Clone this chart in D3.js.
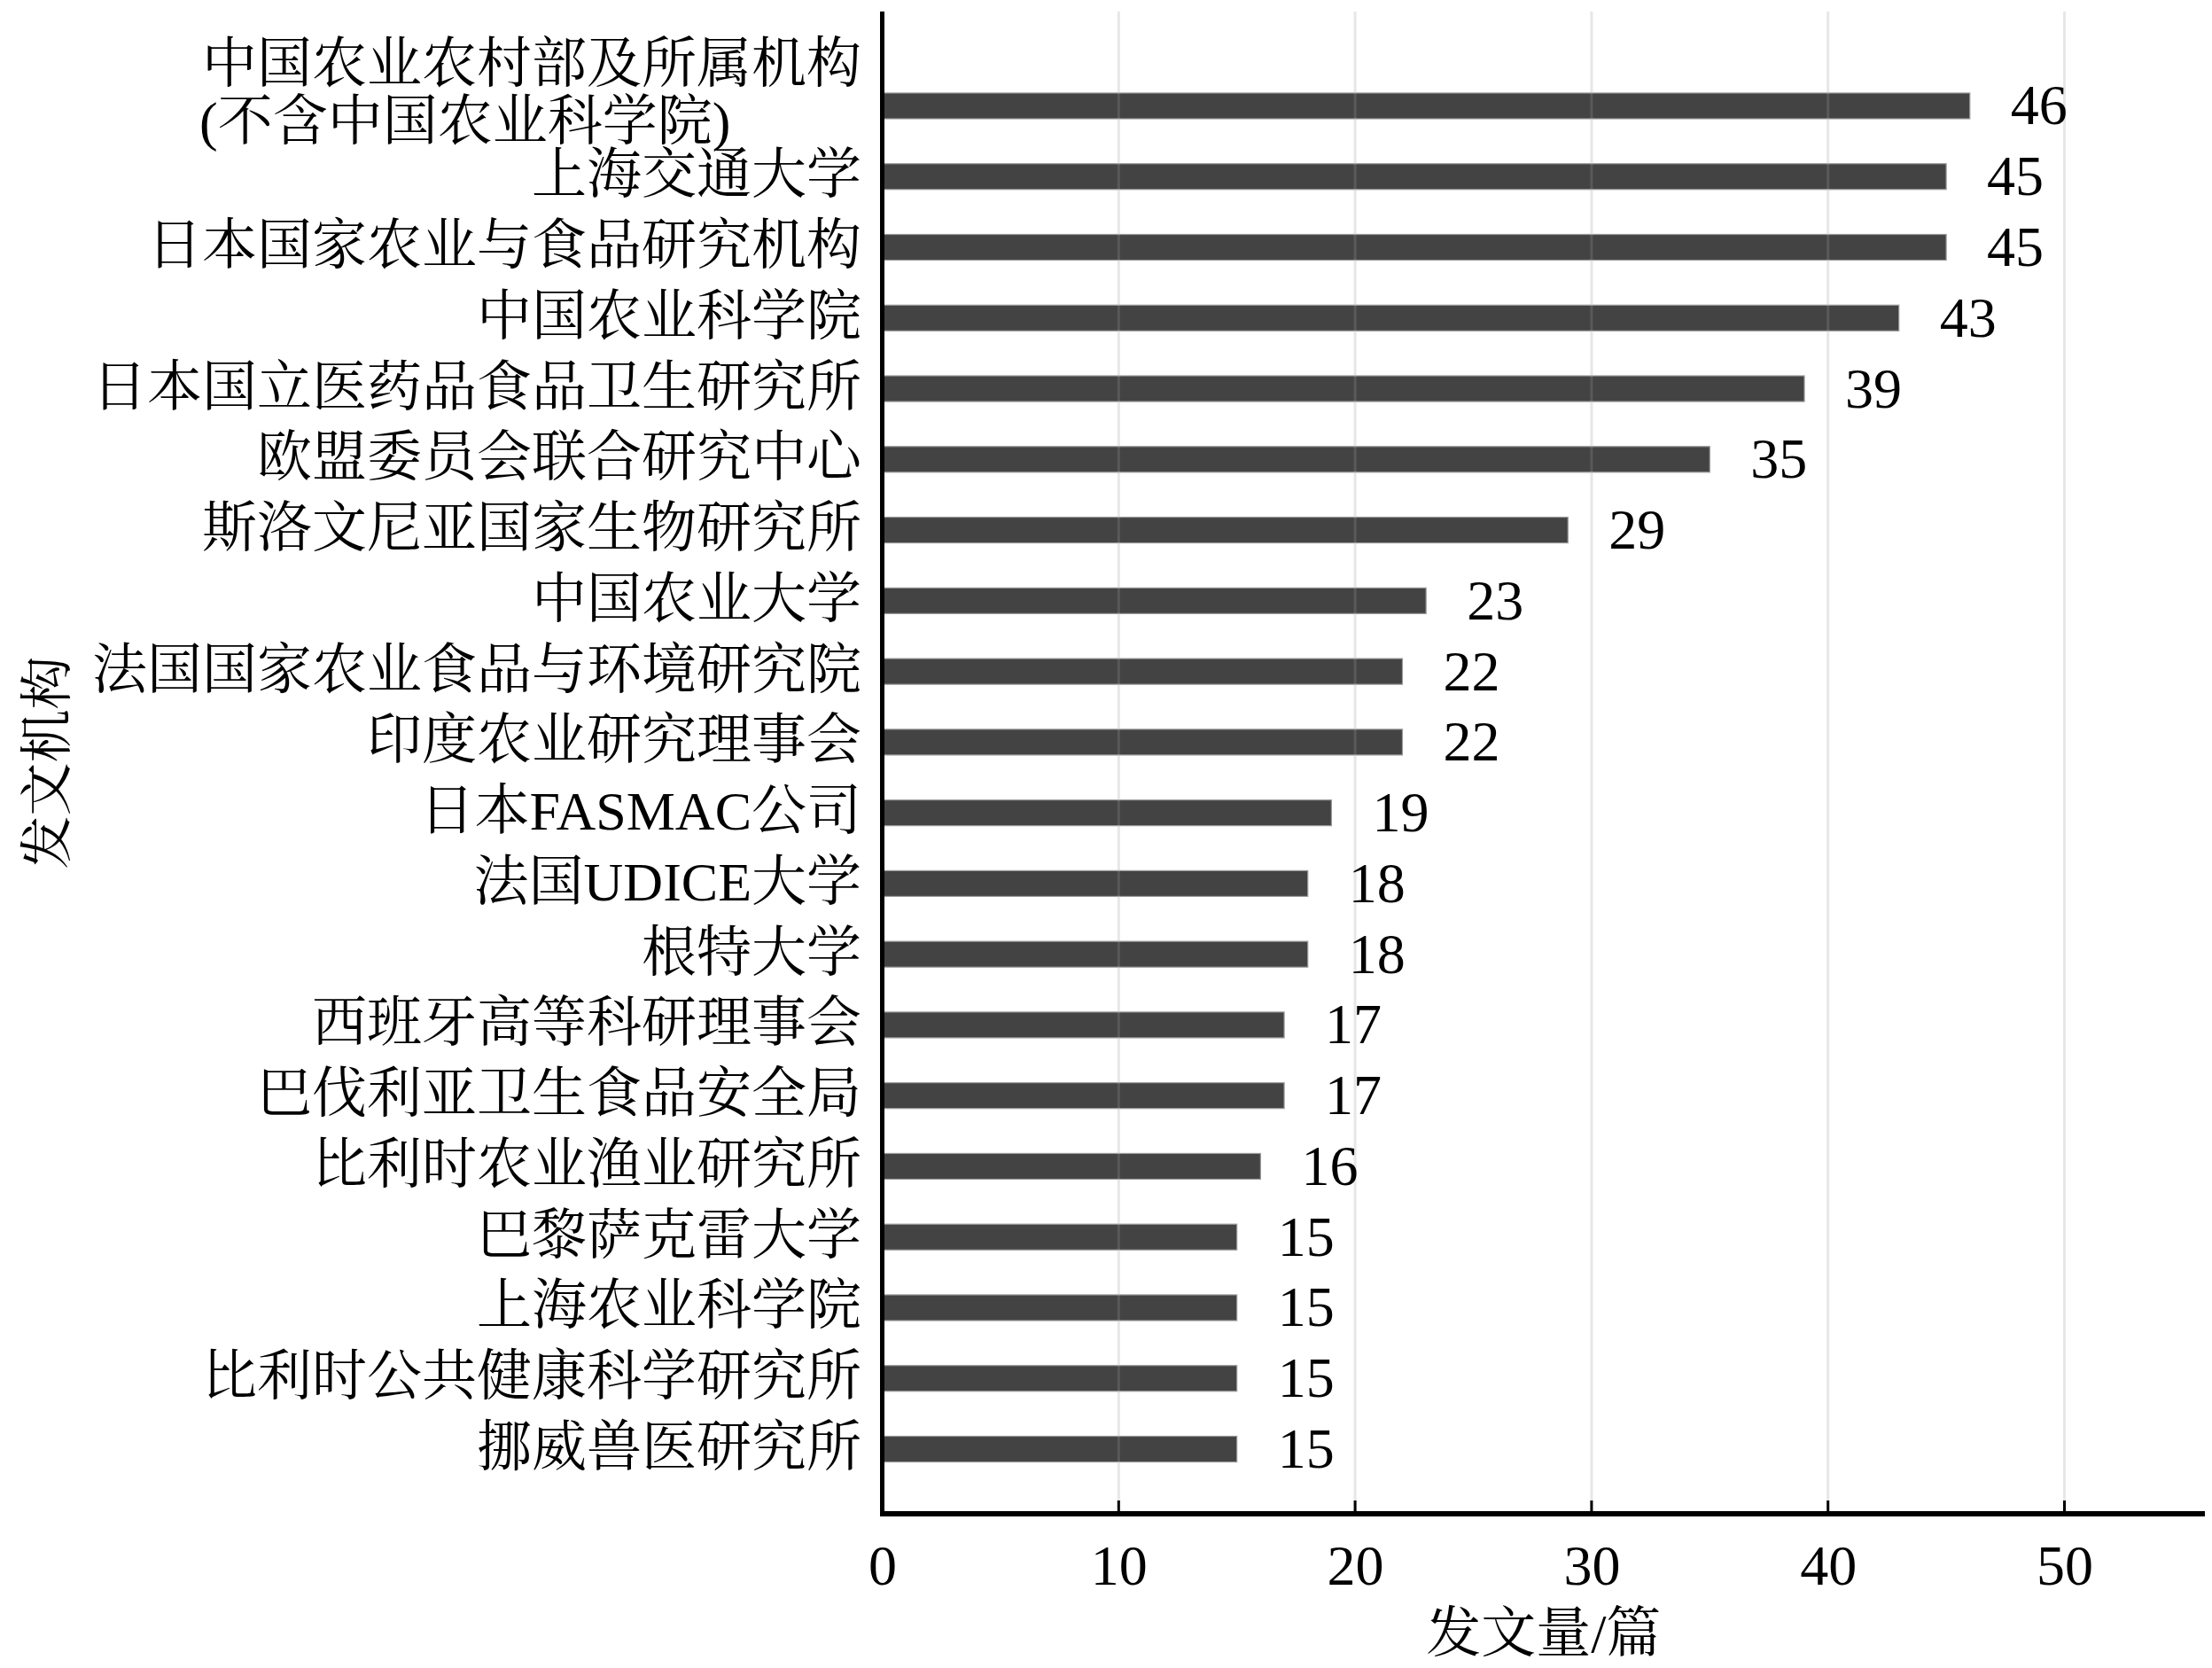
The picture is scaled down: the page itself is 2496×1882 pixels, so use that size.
<!DOCTYPE html>
<html>
<head>
<meta charset="utf-8">
<script src="https://cdn.jsdelivr.net/npm/d3@7"></script>
<style>
  body { margin: 0; background: #fff; }
  svg text { font-family: "Liberation Serif", "Times New Roman", "Noto Serif CJK SC", "Noto Sans CJK SC", serif; fill: #000; }
</style>
</head>
<body>
<div id="chart"></div>
<script>
// institutions, top to bottom
var institutions = [
  "中国农业农村部及所属机构\n(不含中国农业科学院)",
  "上海交通大学",
  "日本国家农业与食品研究机构",
  "中国农业科学院",
  "日本国立医药品食品卫生研究所",
  "欧盟委员会联合研究中心",
  "斯洛文尼亚国家生物研究所",
  "中国农业大学",
  "法国国家农业食品与环境研究院",
  "印度农业研究理事会",
  "日本FASMAC公司",
  "法国UDICE大学",
  "根特大学",
  "西班牙高等科研理事会",
  "巴伐利亚卫生食品安全局",
  "比利时农业渔业研究所",
  "巴黎萨克雷大学",
  "上海农业科学院",
  "比利时公共健康科学研究所",
  "挪威兽医研究所"
];
var papers = [46, 45, 45, 43, 39, 35, 29, 23, 22, 22, 19, 18, 18, 17, 17, 16, 15, 15, 15, 15];
var xTicks = [0, 10, 20, 30, 40, 50];

var svgWidth = 2496;
var svgHeight = 1882;

var svg = d3.select("#chart")
  .append("svg")
  .attr("width", svgWidth)
  .attr("height", svgHeight);

var axisX = 995.5;
var axisY = 1708;
var plotTop = 13;

var xScale = d3.scaleLinear()
  .domain([0, 56])
  .range([axisX, axisX + 56 * 26.68]);

var yScale = d3.scaleBand()
  .domain(institutions)
  .range([79.6, 1674.9])
  .paddingInner(0.636)
  .paddingOuter(0.318);

// grid lines under the bars
svg.append("g")
  .selectAll("line")
  .data(xTicks.slice(1))
  .enter()
  .append("line")
  .attr("x1", d => xScale(d))
  .attr("x2", d => xScale(d))
  .attr("y1", plotTop)
  .attr("y2", axisY)
  .attr("stroke", "#e4e4e4")
  .attr("stroke-width", 3);

var data = institutions.map((name, i) => ({ name: name, value: papers[i] }));

svg.append("g")
  .selectAll("rect")
  .data(data)
  .enter()
  .append("rect")
  .attr("x", xScale(0))
  .attr("y", d => yScale(d.name))
  .attr("width", d => xScale(d.value) - xScale(0))
  .attr("height", yScale.bandwidth())
  .attr("fill", "#434343")
  .attr("stroke", "#9a9a9a")
  .attr("stroke-width", 1.2);

// faint grid lines showing through the bars
svg.append("g")
  .selectAll("line")
  .data(xTicks.slice(1))
  .enter()
  .append("line")
  .attr("x1", d => xScale(d))
  .attr("x2", d => xScale(d))
  .attr("y1", plotTop)
  .attr("y2", axisY)
  .attr("stroke", "#ffffff")
  .attr("stroke-opacity", 0.12)
  .attr("stroke-width", 3);

// value labels
svg.append("g")
  .selectAll("text")
  .data(data)
  .enter()
  .append("text")
  .attr("x", d => xScale(d.value) + 46)
  .attr("y", d => yScale(d.name) + yScale.bandwidth() / 2 + 21)
  .attr("font-size", "64px")
  .text(d => d.value);

// category labels
var labelEnd = 972;
var labels = svg.append("g");
data.forEach(function(d) {
  var cy = yScale(d.name) + yScale.bandwidth() / 2;
  var lines = d.name.split("\n");
  if (lines.length === 1) {
    labels.append("text")
      .attr("x", labelEnd)
      .attr("y", cy + 19)
      .attr("text-anchor", "end")
      .attr("font-size", "62px")
      .text(lines[0]);
  } else {
    var first = labels.append("text")
      .attr("x", labelEnd)
      .attr("y", cy - 26)
      .attr("text-anchor", "end")
      .attr("font-size", "62px")
      .text(lines[0]);
    var w = first.node().getComputedTextLength();
    labels.append("text")
      .attr("x", labelEnd - w - 3)
      .attr("y", cy + 39)
      .attr("text-anchor", "start")
      .attr("font-size", "62px")
      .text(lines[1]);
  }
});

// x axis
var xAxis = d3.axisBottom(xScale)
  .tickValues(xTicks)
  .tickSize(0)
  .tickPadding(0)
  .tickFormat(d3.format("d"));

var xg = svg.append("g")
  .attr("transform", `translate(0, ${axisY})`)
  .call(xAxis);
xg.select(".domain").remove();
xg.selectAll("text")
  .attr("y", 80)
  .attr("dy", null)
  .attr("font-size", "64px")
  .attr("font-family", null)
  .attr("fill", "#000");

// inward ticks
svg.append("g")
  .selectAll("line")
  .data(xTicks.slice(1))
  .enter()
  .append("line")
  .attr("x1", d => xScale(d))
  .attr("x2", d => xScale(d))
  .attr("y1", axisY - 15)
  .attr("y2", axisY)
  .attr("stroke", "#000")
  .attr("stroke-width", 3);

// axis lines
svg.append("line")
  .attr("x1", axisX)
  .attr("x2", axisX)
  .attr("y1", plotTop)
  .attr("y2", axisY + 3)
  .attr("stroke", "#000")
  .attr("stroke-width", 5);

svg.append("line")
  .attr("x1", axisX - 2.5)
  .attr("x2", 2488)
  .attr("y1", axisY)
  .attr("y2", axisY)
  .attr("stroke", "#000")
  .attr("stroke-width", 6);

// axis titles
svg.append("text")
  .attr("x", (axisX + 2488) / 2)
  .attr("y", 1864)
  .attr("text-anchor", "middle")
  .attr("font-size", "62px")
  .text("发文量/篇");

svg.append("g")
  .attr("transform", `translate(74, ${(plotTop + axisY) / 2})`)
  .append("text")
  .attr("text-anchor", "middle")
  .attr("transform", "rotate(-90)")
  .attr("font-size", "60px")
  .text("发文机构");
</script>
</body>
</html>
